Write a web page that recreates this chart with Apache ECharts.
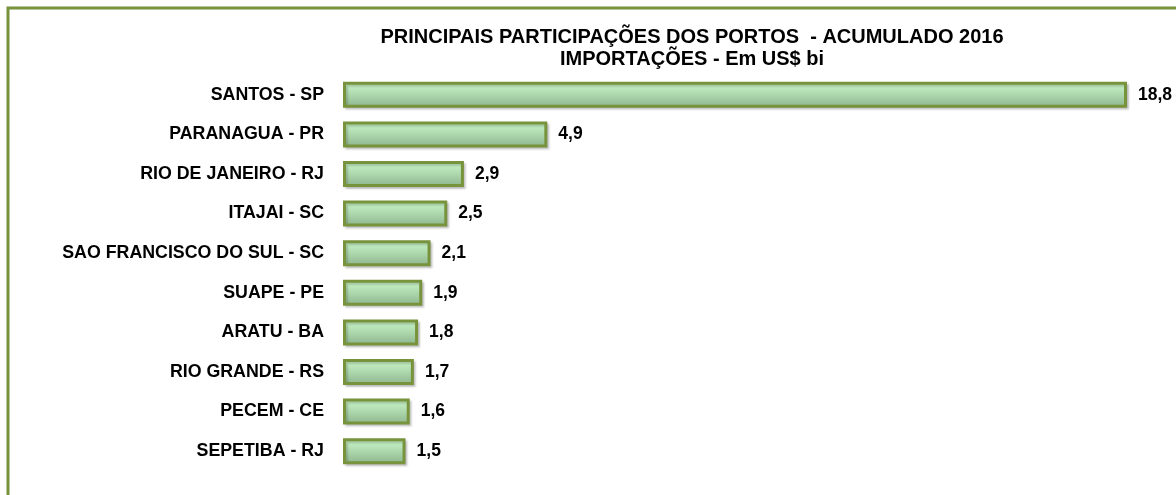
<!DOCTYPE html>
<html>
<head>
    <meta charset="UTF-8">
    <script src="https://cdn.jsdelivr.net/npm/echarts@6/dist/echarts.min.js"></script>
    <style>
        body { margin: 0; background: #fff; }
    </style>
</head>
<body>
    <div id="main" style="width: 1176px; height: 495px;"></div>
    <script>
        // portos e valores (US$ bi)
        var portos = ['SANTOS - SP', 'PARANAGUA - PR', 'RIO DE JANEIRO - RJ', 'ITAJAI - SC',
            'SAO FRANCISCO DO SUL - SC', 'SUAPE - PE', 'ARATU - BA', 'RIO GRANDE - RS',
            'PECEM - CE', 'SEPETIBA - RJ'];
        var valores = [18.8, 4.9, 2.9, 2.5, 2.1, 1.9, 1.8, 1.7, 1.6, 1.5];

        var myChart = echarts.init(document.getElementById('main'));

        var option = {
            animation: false,
            title: {
                text: 'PRINCIPAIS PARTICIPAÇÕES DOS PORTOS  - ACUMULADO 2016\nIMPORTAÇÕES - Em US$ bi',
                left: 687,
                textAlign: 'center',
                top: 21,
                textStyle: {
                    fontFamily: 'Liberation Sans, Arial',
                    fontSize: 20,
                    fontWeight: 'bold',
                    color: '#000',
                    lineHeight: 22
                }
            },
            graphic: [{
                type: 'rect',
                shape: { x: 8, y: 8, width: 1300, height: 700 },
                style: { fill: 'none', stroke: '#77933c', lineWidth: 3 }
            }],
            grid: { left: 343, top: 75, width: 784, height: 396 },
            xAxis: {
                type: 'value',
                min: 0,
                max: 18.8,
                show: false
            },
            yAxis: {
                type: 'category',
                data: portos,
                inverse: true,
                axisLine: { show: false },
                axisTick: { show: false },
                axisLabel: {
                    margin: 19,
                    fontFamily: 'Liberation Sans, Arial',
                    fontSize: 17.8,
                    fontWeight: 'bold',
                    color: '#000'
                }
            },
            series: [{
                type: 'bar',
                data: valores,
                barWidth: 26,
                itemStyle: {
                    color: new echarts.graphic.LinearGradient(0, 0, 0, 1, [
                        { offset: 0, color: '#cdfacd' },
                        { offset: 1, color: '#8db48d' }
                    ]),
                    borderColor: '#77933c',
                    borderWidth: 3,
                    shadowColor: 'rgba(0,0,0,0.18)',
                    shadowOffsetX: 2,
                    shadowOffsetY: 2,
                    shadowBlur: 2
                },
                label: {
                    show: true,
                    position: 'right',
                    distance: 11,
                    fontFamily: 'Liberation Sans, Arial',
                    fontSize: 17.5,
                    fontWeight: 'bold',
                    color: '#000',
                    formatter: function (p) {
                        return p.value.toFixed(1).replace('.', ',');
                    }
                }
            }]
        };
        myChart.setOption(option);
    </script>
</body>
</html>
